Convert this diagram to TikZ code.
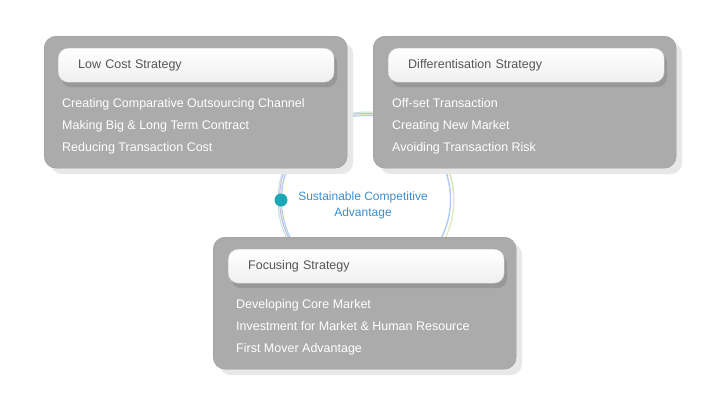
\documentclass[tikz,border=0pt]{standalone}
\usepackage{fontspec}
\setmainfont{Liberation Sans}
\usetikzlibrary{positioning,shadows}
\definecolor{panelgray}{HTML}{ABABAB}
\definecolor{panelline}{HTML}{989898}
\definecolor{headtext}{HTML}{555555}
\definecolor{goalblue}{HTML}{3A8FD0}
\definecolor{dotteal}{HTML}{1CA7B6}
\definecolor{ringblue}{HTML}{A9CFEF}
\definecolor{ringpurple}{HTML}{C7B8EA}
\definecolor{ringyellow}{HTML}{EDEBB8}
\definecolor{ringgreen}{HTML}{BFE6D6}
\tikzset{
    panel/.style={draw=panelline, fill=panelgray, rounded corners=12pt, anchor=north west,
        minimum width=303pt, minimum height=132pt,
        drop shadow={shadow xshift=6pt, shadow yshift=-6pt, fill=gray!18, opacity=1}},
    header/.style={draw=gray!45, top color=white, bottom color=gray!12, rounded corners=10pt,
        anchor=north west, minimum width=276pt, minimum height=34pt,
        text width=250pt, align=left, text=headtext, font=\fontsize{12.5}{14}\selectfont,
        drop shadow={shadow xshift=3pt, shadow yshift=-5pt, fill=panelline, opacity=1}},
    item/.style={text=white, anchor=base west, inner sep=0pt, font=\fontsize{12.5}{14}\selectfont},
    goal/.style={text=goalblue, align=center, font=\fontsize{12}{16}\selectfont},
    dot/.style={circle, fill=dotteal, inner sep=0pt, minimum size=13pt}
}
\begin{document}
\begin{tikzpicture}[x=1pt,y=-1pt]
	\useasboundingbox[fill=white] (0,0) rectangle (710,410);
	% ring behind the panels
	\draw[ringgreen, line width=1pt] (366,200) circle (88);
	\draw[ringyellow, line width=1pt] (367,201) circle (86.5);
	\draw[ringpurple, line width=1pt] (365,199) circle (85.5);
	\draw[ringblue, line width=1pt] (366,200) circle (84.5);
	\node[dot] (core) at (281,200) {};
	\node[goal] (goal) at (363,205) {Sustainable Competitive\\Advantage};
	% low cost
	\node[panel] (low) at (44,36) {};
	\node[header] (lowhead) at (58,48) {\hspace*{7pt}Low Cost Strategy};
	\node[item] (low1) at (62,107) {Creating Comparative Outsourcing Channel};
	\node[item] (low2) at (62,129) {Making Big \& Long Term Contract};
	\node[item] (low3) at (62,151) {Reducing Transaction Cost};
	% differentiation
	\node[panel] (diff) at (373,36) {};
	\node[header] (diffhead) at (388,48) {\hspace*{7pt}Differentisation Strategy};
	\node[item] (diff1) at (392,107) {Off-set Transaction};
	\node[item] (diff2) at (392,129) {Creating New Market};
	\node[item] (diff3) at (392,151) {Avoiding Transaction Risk};
	% focusing
	\node[panel] (focus) at (213,237) {};
	\node[header] (focushead) at (228,249) {\hspace*{7pt}Focusing Strategy};
	\node[item] (focus1) at (236,308) {Developing Core Market};
	\node[item] (focus2) at (236,330) {Investment for Market \& Human Resource};
	\node[item] (focus3) at (236,352) {First Mover Advantage};
\end{tikzpicture}
\end{document}
